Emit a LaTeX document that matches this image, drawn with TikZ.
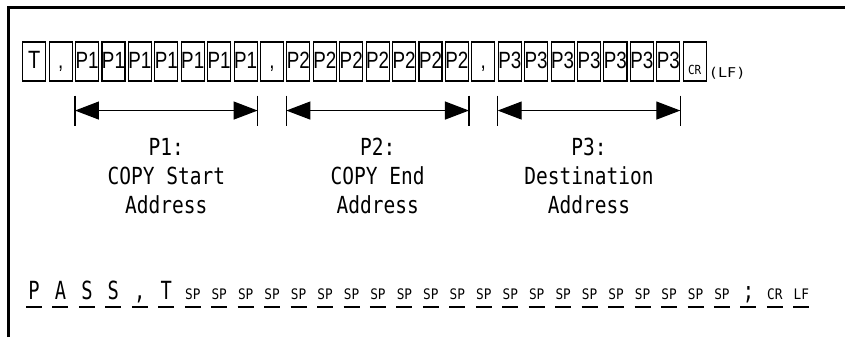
\documentclass[tikz,border=0pt]{standalone}
\usepackage{fontspec}
\usetikzlibrary{arrows.meta,calc}
\newfontfamily\boxfont[FakeStretch=0.8]{Liberation Sans}
\newfontfamily\lblfont[FakeStretch=0.83]{DejaVu Sans Mono}
\newfontfamily\bigfont[FakeStretch=0.75]{DejaVu Sans Mono}
\newfontfamily\smfont[FakeStretch=0.88]{DejaVu Sans Mono}
\newfontfamily\lffont[FakeStretch=1.12]{DejaVu Sans Mono}
\begin{document}
\begin{tikzpicture}[x=1pt,y=-1pt,
  cell/.style={draw, line width=1.1pt, minimum width=23pt, minimum height=39pt, inner sep=0pt},
  btxt/.style={anchor=base, inner sep=0pt, font=\boxfont\fontsize{23.5}{23.5}\selectfont},
  ttxt/.style={anchor=base, inner sep=0pt, font=\boxfont\fontsize{25}{25}\selectfont},
  crtxt/.style={anchor=base, inner sep=0pt, font=\smfont\fontsize{12.5}{12.5}\selectfont},
  lftxt/.style={anchor=base west, inner sep=0pt, font=\lffont\fontsize{13.5}{13.5}\selectfont},
  span/.style={line width=1.2pt, {Triangle[length=24pt,width=18pt]}-{Triangle[length=24pt,width=18pt]}},
  tick/.style={line width=1.2pt},
  lbl/.style={anchor=base, inner sep=0pt, font=\lblfont\fontsize{23.5}{23.5}\selectfont},
  big/.style={anchor=base, inner sep=0pt, font=\bigfont\fontsize{25}{25}\selectfont},
  sml/.style={anchor=base, inner sep=0pt, font=\smfont\fontsize{14.5}{14.5}\selectfont},
  uline/.style={line width=2pt}]
\useasboundingbox (0,0) rectangle (845,337);
% frame
\draw[line width=3pt] (8,337) -- (8,7.5) -- (845,7.5);
% boxes
\foreach \i in {1,...,26}
  \node[cell] (b\i) at ({34.2+(\i-1)*26.42},61.5) {};
\node[ttxt] (t1) at ([yshift=13.5pt]b1.south) {T};
\foreach \i in {2,10,18}
  \node[btxt] (t\i) at ([yshift=13.5pt]b\i.south) {,};
\foreach \i in {3,...,9}
  \node[btxt] (t\i) at ([yshift=13.5pt]b\i.south) {P1};
\foreach \i in {11,...,17}
  \node[btxt] (t\i) at ([yshift=13.5pt]b\i.south) {P2};
\foreach \i in {19,...,25}
  \node[btxt] (t\i) at ([yshift=13.5pt]b\i.south) {P3};
\node[crtxt] (t26) at ([yshift=7pt]b26.south) {CR};
\node[lftxt] (lf) at ([xshift=2pt,yshift=4pt]b26.south east) {(LF)};
% spans
\foreach \k/\a/\b in {1/3/9,2/11/17,3/19/25}{
  \coordinate (l\k) at ($(b\a.south west)+(0,29)$);
  \coordinate (r\k) at ($(b\b.south east)+(0,29)$);
  \draw[tick] ($(l\k)+(0,-15)$) -- ($(l\k)+(0,15)$);
  \draw[tick] ($(r\k)+(0,-15)$) -- ($(r\k)+(0,15)$);
  \draw[span] (l\k) -- (r\k);
  \coordinate (m\k) at ($(l\k)!0.5!(r\k)$);
}
\node[lbl] (p1a) at ($(m1)+(0,45)$) {P1:};
\node[lbl] (p1b) at ($(m1)+(0,74)$) {COPY Start};
\node[lbl] (p1c) at ($(m1)+(0,102.7)$) {Address};
\node[lbl] (p2a) at ($(m2)+(0,45)$) {P2:};
\node[lbl] (p2b) at ($(m2)+(0,74)$) {COPY End};
\node[lbl] (p2c) at ($(m2)+(0,102.7)$) {Address};
\node[lbl] (p3a) at ($(m3)+(0,45)$) {P3:};
\node[lbl] (p3b) at ($(m3)+(0,74)$) {Destination};
\node[lbl] (p3c) at ($(m3)+(0,102.7)$) {Address};
% bottom row
\foreach \t [count=\i] in {P,A,S,S,{,},T}{
  \node[big] (c\i) at ({34+(\i-1)*26.46},299.3) {\t};
  \draw[uline] ({26+(\i-1)*26.46},306.7) -- ++(16,0);
}
\foreach \i in {7,...,27}{
  \node[sml] (c\i) at ({34+(\i-1)*26.46},299.3) {SP};
  \draw[uline] ({26+(\i-1)*26.46},306.7) -- ++(16,0);
}
\node[big] (c28) at ({34+27*26.46},299.3) {;};
\draw[uline] ({26+27*26.46},306.7) -- ++(16,0);
\node[sml] (c29) at ({34+28*26.46},299.3) {CR};
\draw[uline] ({26+28*26.46},306.7) -- ++(16,0);
\node[sml] (c30) at ({34+29*26.46},299.3) {LF};
\draw[uline] ({26+29*26.46},306.7) -- ++(16,0);
\end{tikzpicture}
\end{document}
